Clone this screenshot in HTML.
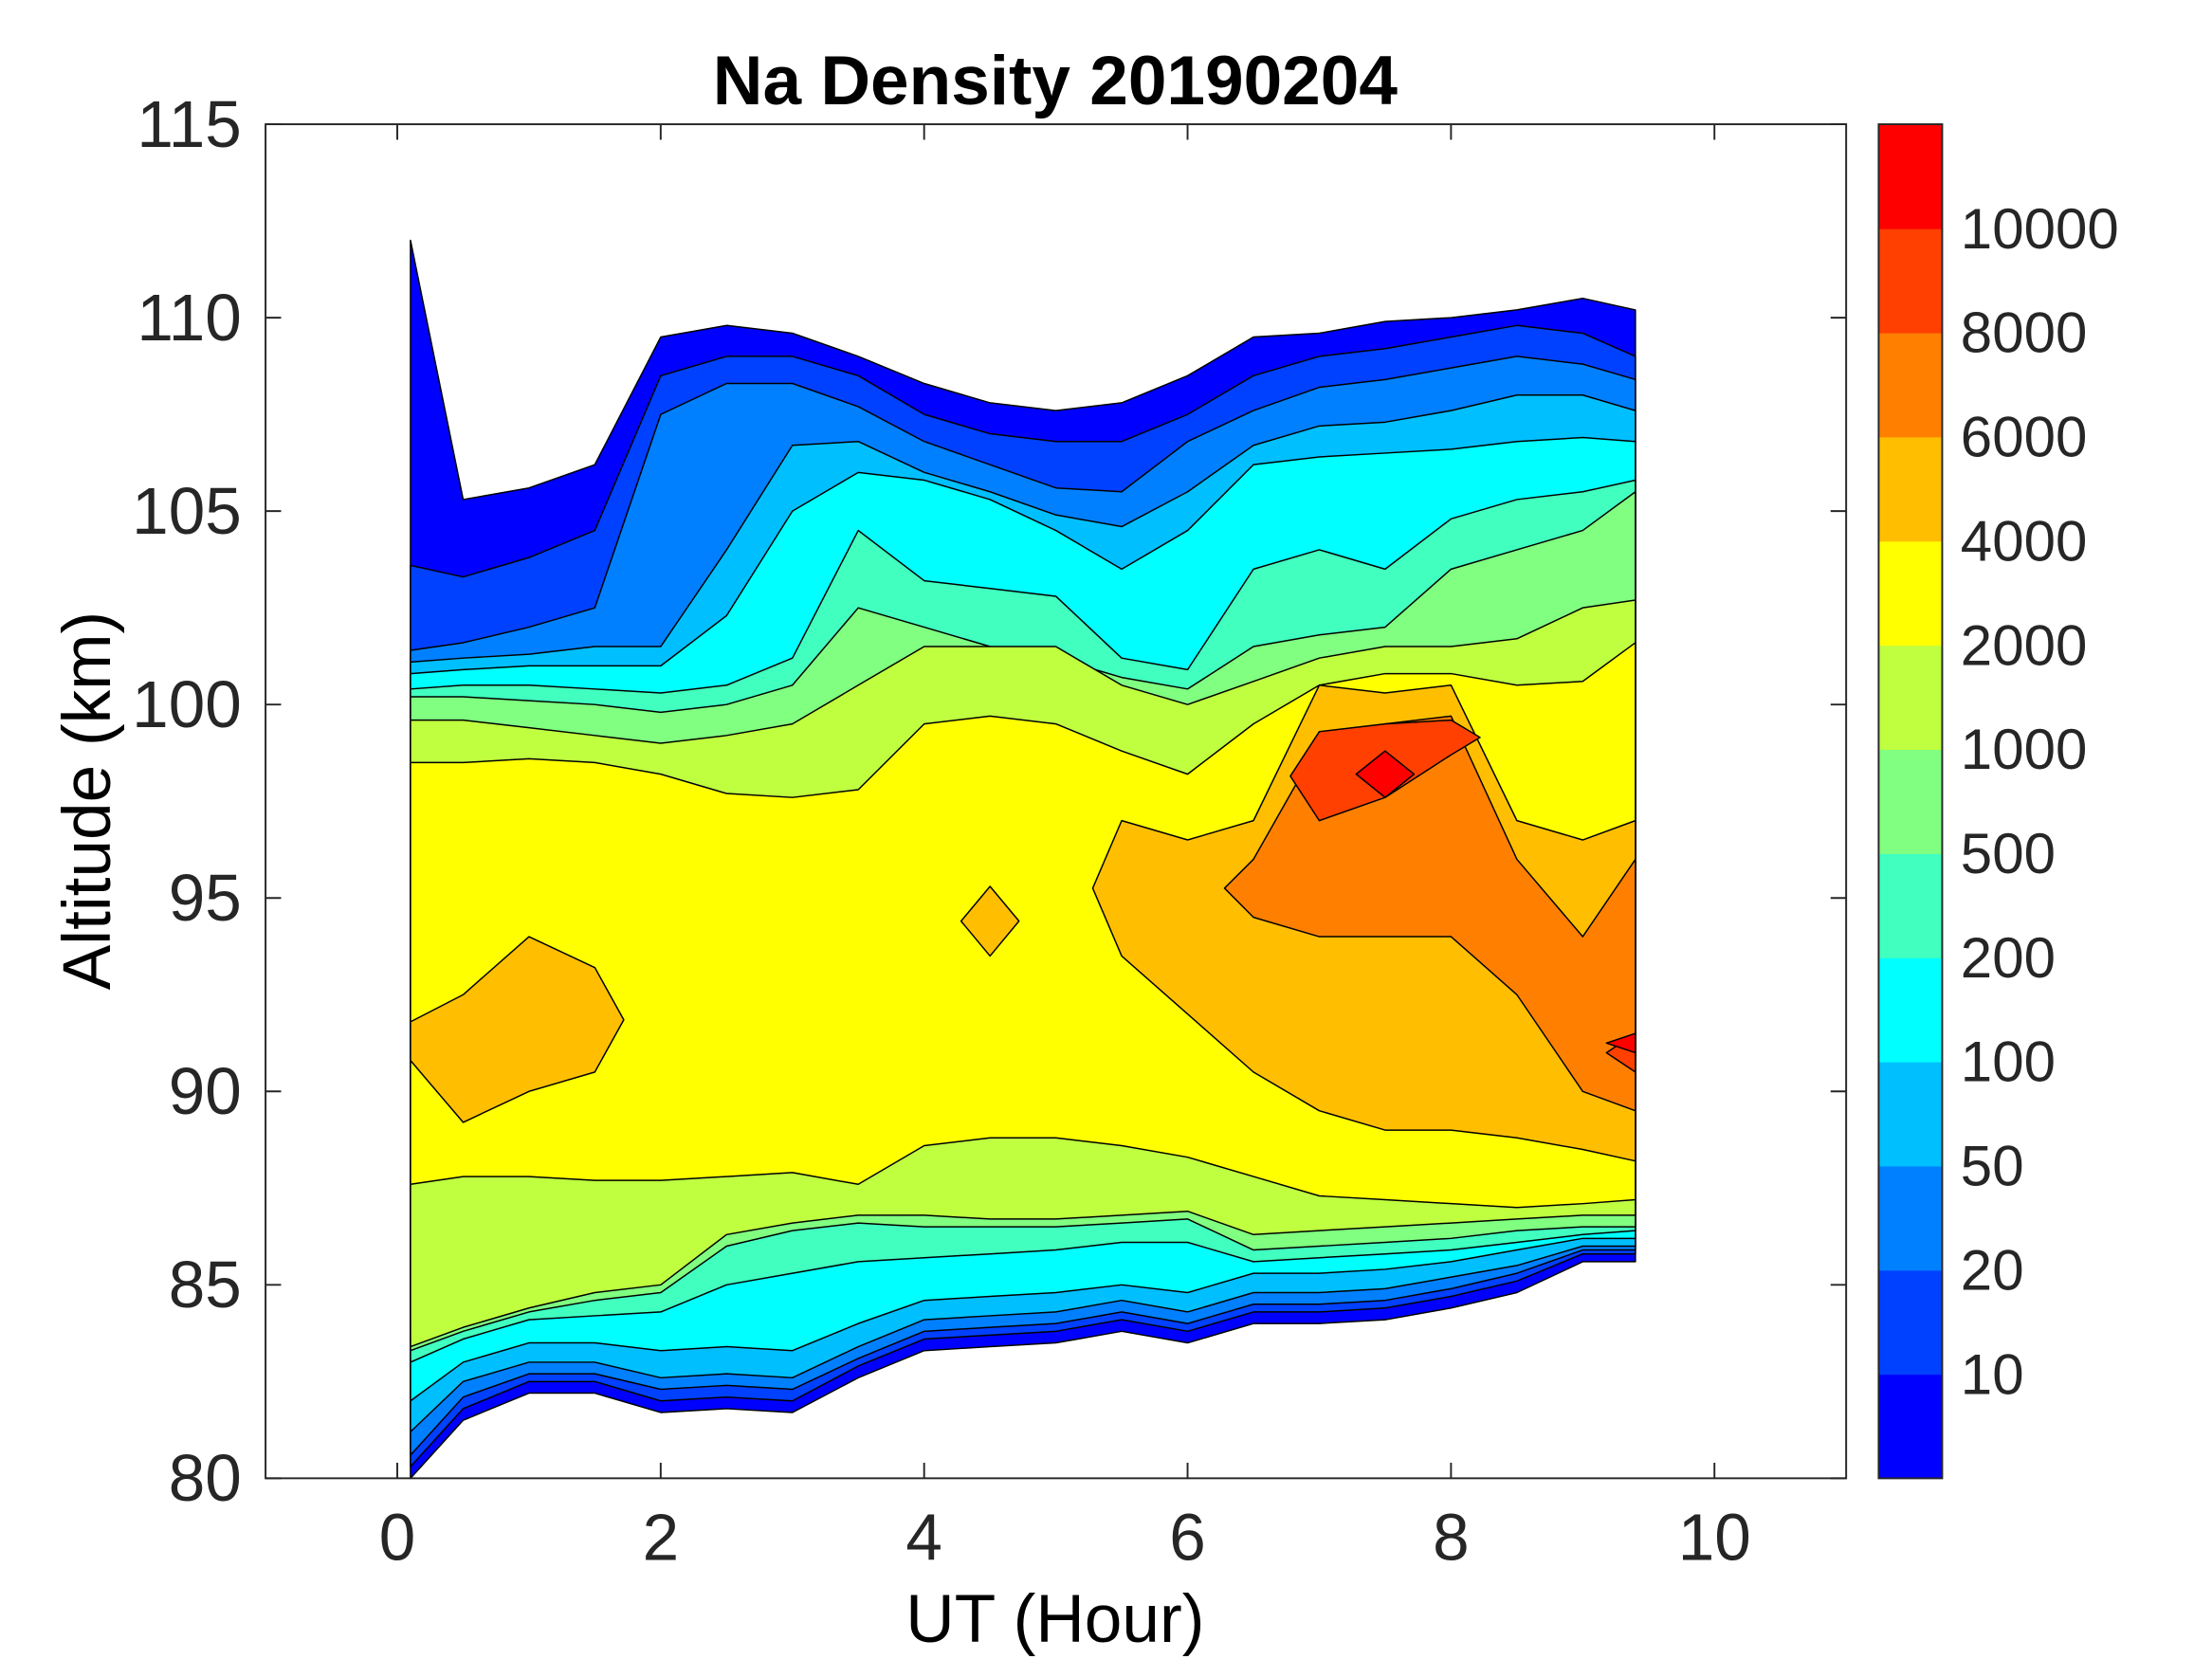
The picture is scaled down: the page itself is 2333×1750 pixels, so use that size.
<!DOCTYPE html>
<html><head><meta charset="utf-8"><style>
html,body{margin:0;padding:0;background:#fff;}
svg{display:block;font-family:"Liberation Sans",Arial,sans-serif;}
</style></head><body>
<svg id="chart" width="2333" height="1750" viewBox="0 0 1566 1175" preserveAspectRatio="none" xmlns="http://www.w3.org/2000/svg">
<g id="marks"></g>
<g id="axes"></g>
<g id="cbar"></g>
<text x="747" y="74" text-anchor="middle" font-size="49" font-weight="bold">Na Density 20190204</text>
<text x="747" y="1163" text-anchor="middle" font-size="47.8">UT (Hour)</text>
<text transform="translate(78,567) rotate(-90)" text-anchor="middle" font-size="47.8">Altitude (km)</text>
</svg>
<script>
const times=[0.1,0.5,1,1.5,2,2.5,3,3.5,4,4.5,5,5.5,6,6.5,7,7.5,8,8.5,9,9.4];
const xTicks=[0,2,4,6,8,10];
const yTicks=[80,85,90,95,100,105,110,115];
const cbarLabels=["10","20","50","100","200","500","1000","2000","4000","6000","8000","10000"];
const bandColors=["#0000FF","#0040FF","#0080FF","#00BFFF","#00FFFF","#40FFBF","#80FF80","#BFFF40","#FFFF00","#FFBF00","#FF8000","#FF4000","#FF0000"];
const N=null;
const lower0=[80,81.5,82.2,82.2,81.7,81.8,81.7,82.6,83.3,83.4,83.5,83.8,83.5,84,84,84.1,84.4,84.8,85.6,85.6];
const upper0=[112,105.3,105.6,106.2,109.5,109.8,109.6,109,108.3,107.8,107.6,107.8,108.5,109.5,109.6,109.9,110,110.2,110.5,110.2];
const lower1=[80.3,81.8,82.5,82.5,82.0,82.1,82.0,82.9,83.6,83.7,83.8,84.1,83.8,84.3,84.3,84.4,84.7,85.1,85.8,85.8];
const upper1=[103.6,103.3,103.8,104.5,108.5,109,109,108.5,107.5,107,106.8,106.8,107.5,108.5,109,109.2,109.5,109.8,109.6,109];
const lower2=[80.6,82.1,82.7,82.7,82.3,82.4,82.3,83.1,83.8,83.9,84.0,84.3,84.0,84.5,84.5,84.6,84.9,85.3,85.9,85.9];
const upper2=[101.4,101.6,102,102.5,107.5,108.3,108.3,107.7,106.8,106.2,105.6,105.5,106.8,107.6,108.2,108.4,108.7,109,108.8,108.4];
const lower3=[81.2,82.5,83.0,83.0,82.6,82.7,82.6,83.4,84.1,84.2,84.3,84.6,84.3,84.8,84.8,84.9,85.2,85.5,86.0,86.0];
const upper3=[101.1,101.2,101.3,101.5,101.5,104,106.7,106.8,106,105.5,104.9,104.6,105.5,106.7,107.2,107.3,107.6,108,108,107.6];
const lower4=[82.0,83.0,83.5,83.5,83.3,83.4,83.3,84.0,84.6,84.7,84.8,85.0,84.8,85.3,85.3,85.4,85.6,85.9,86.2,86.2];
const upper4=[100.8,100.9,101.0,101.0,101.0,102.3,105.0,106.0,105.8,105.3,104.5,103.5,104.5,106.2,106.4,106.5,106.6,106.8,106.9,106.8];
const lower5=[83.0,83.6,84.1,84.2,84.3,85.0,85.3,85.6,85.7,85.8,85.9,86.1,86.1,85.6,85.7,85.8,85.9,86.1,86.3,86.4];
const upper5=[100.4,100.5,100.5,100.4,100.3,100.5,101.2,104.5,103.2,103.0,102.8,101.2,100.9,103.5,104.0,103.5,104.8,105.3,105.5,105.8];
const lower6=[83.3,83.8,84.3,84.6,84.8,86.0,86.4,86.6,86.5,86.5,86.5,86.6,86.7,85.9,86.0,86.1,86.2,86.4,86.5,86.5];
const upper6=[100.2,100.2,100.1,100,99.8,100,100.5,102.5,102,101.5,101.2,100.7,100.4,101.5,101.8,102,103.5,104,104.5,105.5];
const lower7=[83.4,83.9,84.4,84.8,85.0,86.3,86.6,86.8,86.8,86.7,86.7,86.8,86.9,86.3,86.4,86.5,86.6,86.7,86.8,86.8];
const upper7=[99.6,99.6,99.4,99.2,99,99.2,99.5,100.5,101.5,101.5,101.5,100.5,100,100.6,101.2,101.5,101.5,101.7,102.5,102.7];
const lower8=[87.6,87.8,87.8,87.7,87.7,87.8,87.9,87.6,88.6,88.8,88.8,88.6,88.3,87.8,87.3,87.2,87.1,87.0,87.1,87.2];
const upper8=[98.5,98.5,98.6,98.5,98.2,97.7,97.6,97.8,99.5,99.7,99.5,98.8,98.2,99.5,100.5,100.8,100.8,100.5,100.6,101.6];
const lower9=[90.8,89.2,90,90.5,N,N,N,N,N,93.5,N,93.5,92,90.5,89.5,89,89,88.8,88.5,88.2];
const upper9=[91.8,92.5,94,93.2,N,N,N,N,N,95.3,N,97,96.5,97,100.5,100.3,100.5,97,96.5,97];
const lower10=[N,N,N,N,N,N,N,N,N,N,N,N,N,94.5,94,94,94,92.5,90,89.5];
const upper10=[N,N,N,N,N,N,N,N,N,N,N,N,N,96,99,99.5,99.7,96,94,96];
const lower11=[N,N,N,N,N,N,N,N,N,N,N,N,N,N,97,97.6,98.7,N,N,90.5];
const upper11=[N,N,N,N,N,N,N,N,N,N,N,N,N,N,99.3,99.5,99.6,N,N,91.5];
const lower12=[N,N,N,N,N,N,N,N,N,N,N,N,N,N,N,97.6,N,N,N,91];
const upper12=[N,N,N,N,N,N,N,N,N,N,N,N,N,N,N,98.8,N,N,N,91.5];
const lowers=[lower0,lower1,lower2,lower3,lower4,lower5,lower6,lower7,lower8,lower9,lower10,lower11,lower12];
const uppers=[upper0,upper1,upper2,upper3,upper4,upper5,upper6,upper7,upper8,upper9,upper10,upper11,upper12];

const PL=188,PR=1307,PT=88,PB=1047;
const xScale=t=>PL+(t-(-1))/12*(PR-PL);
const yScale=a=>PB-(a-80)/35*(PB-PT);
const NS="http://www.w3.org/2000/svg";
function mk(tag,attrs,parent){const e=document.createElementNS(NS,tag);for(const k in attrs)e.setAttribute(k,attrs[k]);parent.appendChild(e);return e;}
const marks=document.getElementById('marks');
for(let L=0;L<lowers.length;L++){
  const lo=lowers[L],hi=uppers[L];
  let i=0;
  while(i<times.length){
    if(lo[i]===null){i++;continue;}
    let j=i;while(j+1<times.length&&lo[j+1]!==null)j++;
    const up=[],dn=[];
    const half=0.22;
    if(i>0){up.push([times[i]-half,(lo[i]+hi[i])/2]);}
    for(let k=i;k<=j;k++){up.push([times[k],hi[k]]);}
    if(j<times.length-1){up.push([times[j]+half,(lo[j]+hi[j])/2]);}
    for(let k=j;k>=i;k--){dn.push([times[k],lo[k]]);}
    const pts=up.concat(dn).map(p=>xScale(p[0]).toFixed(1)+','+yScale(p[1]).toFixed(1)).join(' ');
    const p=mk('polygon',{points:pts,fill:bandColors[L],stroke:'#000','stroke-width':1,'stroke-linejoin':'round'},marks);
    
    
    i=j+1;
  }
}
const axes=document.getElementById('axes');
const frame=mk('rect',{x:PL,y:PT,width:PR-PL,height:PB-PT,fill:'none',stroke:'#262626','stroke-width':1.3},axes);


xTicks.forEach(t=>{
  const x=xScale(t);
  mk('line',{x1:x,y1:PB,x2:x,y2:PB-11,stroke:'#262626','stroke-width':1.3},axes);
  mk('line',{x1:x,y1:PT,x2:x,y2:PT+11,stroke:'#262626','stroke-width':1.3},axes);
  const tx=mk('text',{x:x,y:1105,'text-anchor':'middle','font-size':46.5,fill:'#262626'},axes);
  tx.textContent=t;
  
  
});
yTicks.forEach(a=>{
  const y=yScale(a);
  mk('line',{x1:PL,y1:y,x2:PL+11,y2:y,stroke:'#262626','stroke-width':1.3},axes);
  mk('line',{x1:PR,y1:y,x2:PR-11,y2:y,stroke:'#262626','stroke-width':1.3},axes);
  const tx=mk('text',{x:171,y:y+16,'text-anchor':'end','font-size':46.5,fill:'#262626'},axes);
  tx.textContent=a;
  
  
});
const cb=document.getElementById('cbar');
const CX=1330,CW=45,bh=(PB-PT)/bandColors.length;
bandColors.forEach((c,k)=>{
  const r=mk('rect',{x:CX,y:PB-(k+1)*bh,width:CW,height:bh+0.5,fill:c},cb);
  
  
});
mk('rect',{x:CX,y:PT,width:CW,height:PB-PT,fill:'none',stroke:'#262626','stroke-width':1.3},cb);
cbarLabels.forEach((s,k)=>{
  const y=PB-(k+1)*bh;
  const tx=mk('text',{x:1388,y:y+14,'font-size':40.3,fill:'#262626'},cb);
  tx.textContent=s;
  
  
});
</script>
</body></html>
